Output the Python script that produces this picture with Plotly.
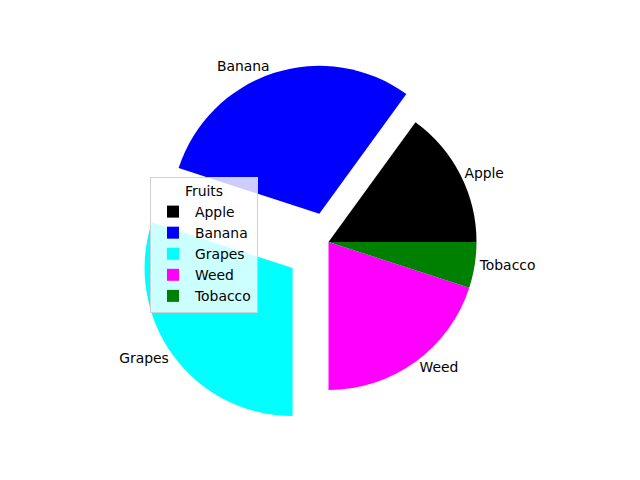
import plotly.graph_objects as go

labels = ["Apple", "Banana", "Grapes", "Weed", "Tobacco"]
values = [15, 30, 30, 20, 5]
pulls = [0, 0.2, 0.3, 0, 0]
colors = ["#000000", "#0000ff", "#00ffff", "#ff00ff", "#008000"]

W, H = 640, 480
OFF = 8  # default page body margin
cx, cy, r = 328.5 - OFF, 242.0 - OFF, 148.0
maxpull = max(pulls)
box = r * (2 + 2 * maxpull)

fig = go.Figure(go.Pie(
    labels=labels, values=values, pull=pulls, sort=False,
    direction="counterclockwise", rotation=36,
    marker=dict(colors=colors, line=dict(width=0)),
    textinfo="label", textposition="outside",
    textfont=dict(family="DejaVu Sans", size=13.9, color="black"),
    domain=dict(x=[(cx - box / 2) / W, (cx + box / 2) / W],
                y=[(H - cy - box / 2) / H, (H - cy + box / 2) / H]),
    showlegend=True, automargin=False,
))
fig.update_layout(
    width=W, height=H, margin=dict(l=0, r=0, t=0, b=0, pad=0, autoexpand=False),
    paper_bgcolor="white", plot_bgcolor="white",
    font=dict(family="DejaVu Sans", size=13.9, color="black"),
    legend=dict(
        title=dict(text="Fruits", side="top center",
                   font=dict(family="DejaVu Sans", size=13.9, color="black")),
        x=(150 - OFF) / W, y=1 - (177 - OFF) / H, xanchor="left", yanchor="top",
        bgcolor="rgba(255,255,255,0.8)", bordercolor="#d0d0d0", borderwidth=1,
        traceorder="normal", itemsizing="constant", itemwidth=34,
        font=dict(family="DejaVu Sans", size=13.9, color="black"),
    ),
)
fig.write_html("out.html")
